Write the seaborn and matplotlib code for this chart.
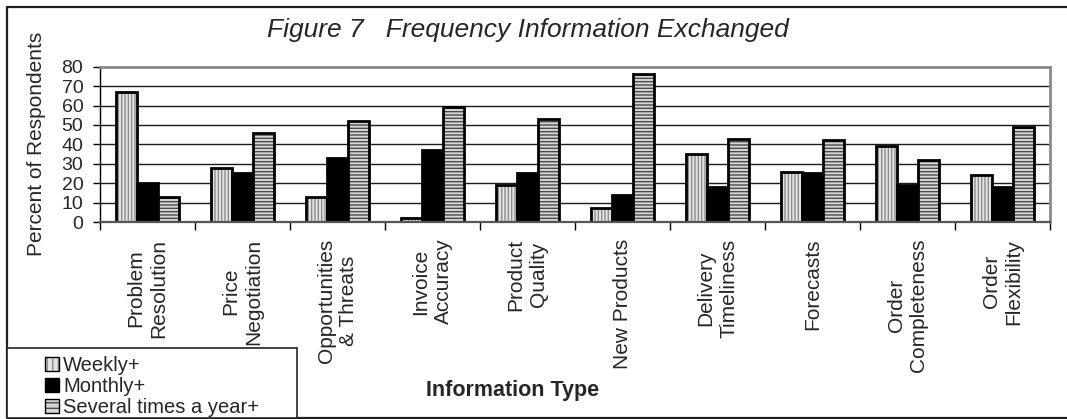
import matplotlib
matplotlib.use("Agg")
import matplotlib.pyplot as plt
import matplotlib.colors as mcolors
from matplotlib.patches import Rectangle, Patch
import seaborn as sns
import pandas as pd

# ---------------- data ----------------
categories = ["Problem\nResolution", "Price\nNegotiation", "Opportunities\n& Threats",
              "Invoice\nAccuracy", "Product\nQuality", "New Products",
              "Delivery\nTimeliness", "Forecasts", "Order\nCompleteness",
              "Order\nFlexibility"]
series_names = ["Weekly+", "Monthly+", "Several times a year+"]
weekly = [67, 28, 13, 2, 19, 7, 35, 26, 39, 24]
monthly = [20, 25, 33, 37, 25, 14, 18, 25, 19, 18]
several = [13, 46, 52, 59, 53, 76, 43, 42, 32, 49]
y_ticks = [0, 10, 20, 30, 40, 50, 60, 70, 80]

title_text = "Figure 7   Frequency Information Exchanged"
y_label = "Percent of Respondents"
x_label = "Information Type"

# ---------------- styles ----------------
fills = {"Weekly+": "#e4e4e4", "Monthly+": "#000000", "Several times a year+": "#d6d6d6"}
hatches = {"Weekly+": "|||||", "Monthly+": "", "Several times a year+": "-----"}
legend_hatches = {"Weekly+": "|||", "Monthly+": "", "Several times a year+": "---"}
hatch_cols = {"Weekly+": "#8c8c8c", "Monthly+": "#000000", "Several times a year+": "#4a4a4a"}

sns.set_theme(style="white")
plt.rcParams["font.family"] = ["Liberation Sans", "DejaVu Sans"]
plt.rcParams["hatch.linewidth"] = 1.0

df = pd.DataFrame({
    "category": categories * 3,
    "series": [series_names[0]] * len(categories) + [series_names[1]] * len(categories)
              + [series_names[2]] * len(categories),
    "value": weekly + monthly + several,
})

W, H = 1067, 419
fig = plt.figure(figsize=(W / 100, H / 100), dpi=100)
ax_l, ax_r, ax_t, ax_b = 100, 1050, 66.7, 222
ax = fig.add_axes([ax_l / W, 1 - ax_b / H, (ax_r - ax_l) / W, (ax_b - ax_t) / H])

sns.barplot(data=df, x="category", y="value", hue="series", order=categories,
            hue_order=series_names, palette=fills, saturation=1, width=0.67,
            gap=0, edgecolor="black", linewidth=2.0, ax=ax, legend=False,
            errorbar=None)

for name, cont in zip(series_names, ax.containers):
    for bar in cont:
        bar.set_hatch(hatches[name])
        bar._hatch_color = mcolors.to_rgba(hatch_cols[name])

ax.set_ylim(0, 80)
ax.set_xlim(-0.5, len(categories) - 0.5)
ax.set_yticks(y_ticks)
ax.set_axisbelow(True)
ax.yaxis.grid(True, color="#1a1a1a", linewidth=1.0)
ax.xaxis.grid(False)

for s in ["top", "right"]:
    ax.spines[s].set_color("#8a8a8a")
    ax.spines[s].set_linewidth(2.0)
ax.spines["left"].set_color("black")
ax.spines["left"].set_linewidth(1.0)
ax.spines["bottom"].set_color("#555555")
ax.spines["bottom"].set_linewidth(1.6)

ax.tick_params(axis="y", which="major", direction="out", length=5, width=1,
               color="black", labelsize=14, pad=7, left=True)
ax.set_xticks(range(len(categories)))
ax.set_xticklabels(categories, rotation=90, fontsize=15, va="top", ha="center",
                   multialignment="center", linespacing=1.25)
ax.tick_params(axis="x", which="major", length=0, pad=12)
ax.set_xticks([i - 0.5 for i in range(len(categories) + 1)], minor=True)
ax.tick_params(axis="x", which="minor", direction="out", length=6, width=1,
               color="black", bottom=True)

ax.set_ylabel(y_label, fontsize=15)
ax.yaxis.set_label_coords((37 - ax_l) / (ax_r - ax_l), 0.5)
ax.yaxis.label.set_va("center")
ax.set_xlabel(x_label, fontsize=15.5, fontweight="bold")
ax.xaxis.set_label_coords((513 - ax_l) / (ax_r - ax_l), -(390 - ax_b) / (ax_b - ax_t))
ax.xaxis.label.set_va("center")

fig.text(528 / W, 1 - 37 / H, title_text, fontsize=19, style="italic",
         ha="center", va="baseline")

# outer frame (right side extends past the image)
fig.patches.append(Rectangle((7 / W, 1 - 418 / H), 1.2, (418 - 7) / H,
                             transform=fig.transFigure, fill=False,
                             edgecolor="#222222", linewidth=1.6, zorder=0))

# legend box
fig.patches.append(Rectangle((7 / W, 1 - 418 / H), (297 - 7) / W, (418 - 348) / H,
                             transform=fig.transFigure, facecolor="white",
                             edgecolor="#222222", linewidth=1.2, zorder=5))
handles = []
for name in series_names:
    p = Patch(facecolor=fills[name], edgecolor="black", hatch=legend_hatches[name],
              linewidth=1.0)
    p._hatch_color = mcolors.to_rgba(hatch_cols[name])
    handles.append(p)
leg = fig.legend(handles, series_names, loc="upper left",
                 bbox_to_anchor=(45 / W, 1 - 356 / H), frameon=False,
                 fontsize=14.5, handlelength=0.7, handleheight=0.7,
                 handletextpad=0.2, labelspacing=0.1, borderpad=0,
                 borderaxespad=0)
leg.set_zorder(6)

fig.savefig("out.png", dpi=100)
